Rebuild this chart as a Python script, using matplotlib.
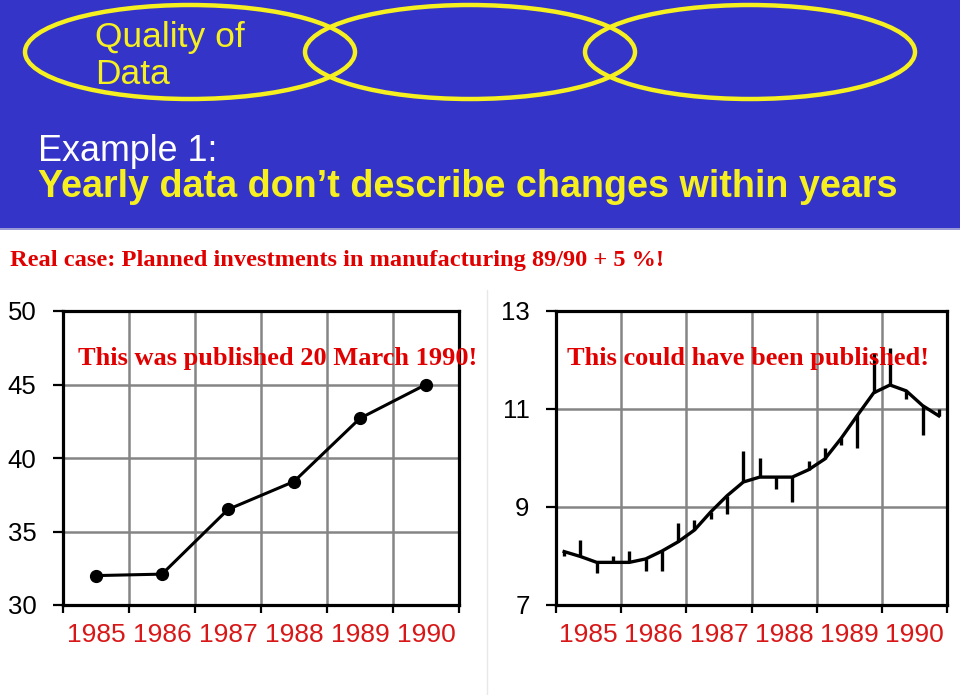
import matplotlib
matplotlib.use("Agg")
import matplotlib.pyplot as plt
from matplotlib.patches import Ellipse, Rectangle
from matplotlib import font_manager as fm

# ---------------- data ----------------
years = ['1985', '1986', '1987', '1988', '1989', '1990']
published_annual = [32.0, 32.1, 36.5, 38.4, 42.7, 45.0]
left_yticks = [30, 35, 40, 45, 50]

quarterly_level = [8.09, 7.99, 7.87, 7.87, 7.87, 7.94, 8.10, 8.29,
                   8.53, 8.90, 9.23, 9.51, 9.61, 9.61, 9.61, 9.76,
                   9.98, 10.40, 10.87, 11.33, 11.49, 11.37, 11.07, 10.86]
quarterly_bar_end = [8.01, 8.32, 7.65, 8.01, 8.11, 7.70, 7.70, 8.68,
                     8.73, 8.75, 8.85, 10.15, 9.99, 9.37, 9.11, 9.93,
                     10.20, 10.26, 10.21, 12.15, 12.24, 11.20, 10.47, 10.99]
right_yticks = [7, 9, 11, 13]

header_small = ['Quality of', 'Data']
example_label = 'Example 1:'
headline = 'Yearly data don\u2019t describe changes within years'
subtitle = 'Real case: Planned investments in manufacturing 89/90 + 5 %!'
note_left = 'This was published 20 March 1990!'
note_right = 'This could have been published!'

# ---------------- setup ----------------
W, H = 960, 695
names = {f.name for f in fm.fontManager.ttflist}
SANS = 'Liberation Sans' if 'Liberation Sans' in names else 'DejaVu Sans'
NARROW = 'Liberation Sans Narrow' if 'Liberation Sans Narrow' in names else SANS
SERIF = 'Liberation Serif' if 'Liberation Serif' in names else 'DejaVu Serif'

BLUE = '#3434c8'
YELLOW = '#f6f020'
RED = '#e00000'
TICKRED = '#d81818'
GRID = '#858585'

fig = plt.figure(figsize=(W / 100, H / 100), dpi=100)

# background / header axes in pixel coordinates
ax0 = fig.add_axes([0, 0, 1, 1], zorder=-1)
ax0.set_xlim(0, W)
ax0.set_ylim(H, 0)
ax0.axis('off')
ax0.add_patch(Rectangle((0, 0), W, 228, color=BLUE, lw=0))
ax0.add_patch(Rectangle((0, 228), W, 2, color='#9a9ad8', lw=0))
for cx in (190, 470, 750):
    ax0.add_patch(Ellipse((cx, 52), 330, 94, fill=False, ec=YELLOW, lw=3.2))
ax0.plot([487, 487], [290, 695], color='#e8e8e8', lw=1)


def ftext(x, y, s, **kw):
    fig.text(x / W, 1 - y / H, s, zorder=5, **kw)


ftext(95, 47, header_small[0], family=SANS, fontsize=25.5, color=YELLOW, va='baseline')
ftext(95, 84, header_small[1], family=SANS, fontsize=25.5, color=YELLOW, va='baseline')
ftext(38, 161, example_label, family=SANS, fontsize=25.8, color='white', va='baseline')
ftext(38, 197, headline, family=SANS, fontsize=27.2, fontweight='bold', color=YELLOW, va='baseline')
ftext(10, 266, subtitle, family=SERIF, fontsize=17.6, fontweight='bold', color=RED, va='baseline')
ftext(78, 365, note_left, family=SERIF, fontsize=19, fontweight='bold', color=RED, va='baseline')
ftext(567, 365, note_right, family=SERIF, fontsize=19, fontweight='bold', color=RED, va='baseline')


def style_axes(ax, yticks):
    n = len(years)
    ax.set_xlim(0, n)
    ax.set_ylim(yticks[0], yticks[-1])
    ax.set_xticks(range(n + 1))
    ax.set_xticklabels([])
    ax.set_xticks([i + 0.5 for i in range(n)], minor=True)
    ax.set_xticklabels(years, minor=True)
    ax.set_yticks(yticks)
    ax.set_yticklabels([str(v) for v in yticks])
    ax.set_axisbelow(True)
    ax.grid(True, which='major', color=GRID, lw=1.8)
    ax.tick_params(axis='x', which='major', length=6, width=1.6, color='black')
    ax.tick_params(axis='x', which='minor', length=0, pad=13, labelsize=19, labelcolor=TICKRED)
    ax.tick_params(axis='y', length=7, width=1.6, pad=12, labelsize=18.5)
    for lab in ax.get_xticklabels(minor=True):
        lab.set_family(SANS)
    for lab in ax.get_yticklabels():
        lab.set_family(NARROW)
    for sp in ax.spines.values():
        sp.set_linewidth(2.3)
        sp.set_color('black')


# left chart
ax1 = fig.add_axes([63 / W, 1 - 605 / H, 396 / W, 294 / H])
style_axes(ax1, left_yticks)
ax1.plot([i + 0.5 for i in range(len(published_annual))], published_annual,
         color='black', lw=2.2, marker='o', ms=8.5, zorder=3)

# right chart
ax2 = fig.add_axes([556 / W, 1 - 605 / H, 391 / W, 294 / H])
style_axes(ax2, right_yticks)
xq = [(i + 0.5) / 4 for i in range(len(quarterly_level))]
ax2.plot(xq, quarterly_level, color='black', lw=2.4, zorder=3)
ax2.vlines(xq, quarterly_level, quarterly_bar_end, color='black', lw=2.4, zorder=3)

fig.savefig('out.png', dpi=100)
